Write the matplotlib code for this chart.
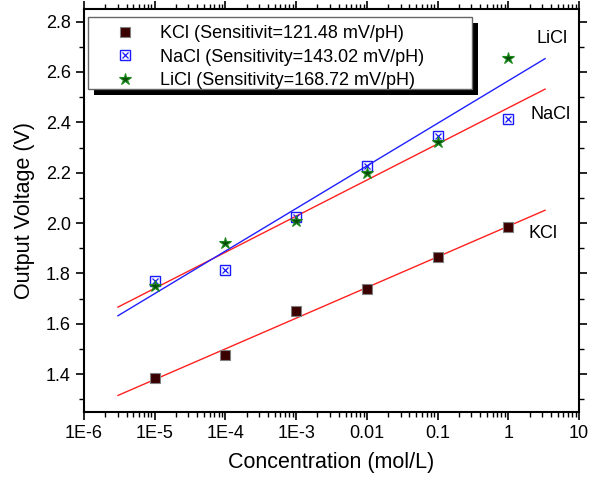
import numpy as np
import matplotlib
matplotlib.use("Agg")
import matplotlib.pyplot as plt
from matplotlib.legend_handler import HandlerTuple
from matplotlib.patches import Rectangle
from matplotlib.ticker import FixedLocator, LogLocator, NullFormatter, MultipleLocator

plt.rcParams['font.family'] = ['Liberation Sans', 'DejaVu Sans']

conc = [1e-5, 1e-4, 1e-3, 1e-2, 1e-1, 1.0]
kcl = [1.385, 1.475, 1.650, 1.740, 1.865, 1.985]
nacl = [1.770, 1.815, 2.025, 2.225, 2.345, 2.415]
licl = [1.750, 1.920, 2.010, 2.200, 2.320, 2.655]

xtick_vals = [1e-6, 1e-5, 1e-4, 1e-3, 1e-2, 1e-1, 1, 10]
xtick_labels = ["1E-6", "1E-5", "1E-4", "1E-3", "0.01", "0.1", "1", "10"]
legend_labels = ["KCl (Sensitivit=121.48 mV/pH)",
                 "NaCl (Sensitivity=143.02 mV/pH)",
                 "LiCl (Sensitivity=168.72 mV/pH)"]

W, H = 596, 479
fig = plt.figure(figsize=(W / 100, H / 100), dpi=100)
ax = fig.add_axes([84 / W, 1 - 412 / H, 495 / W, 403 / H])

# fit lines
fit_x = np.logspace(-5.52, 0.52, 50)
def fit(y):
    p = np.polyfit(np.log10(conc), y, 1)
    return np.polyval(p, np.log10(fit_x))

ax.plot(fit_x, fit(kcl), color='#ff2020', lw=1.0, zorder=2)
ax.plot(fit_x, fit(nacl), color='#ff2020', lw=1.0, zorder=2)
ax.plot(fit_x, fit(licl), color='#2020ff', lw=1.0, zorder=2)

hk, = ax.plot(conc, kcl, ls='none', marker='s', ms=6.5, mfc='#3a0000', mec='#808080', mew=0.8, zorder=3)
hn1, = ax.plot(conc, nacl, ls='none', marker='s', ms=6.5, mfc='none', mec='#1a1aff', mew=1.0, zorder=3)
hn2, = ax.plot(conc, nacl, ls='none', marker='x', ms=4.5, mec='#1a1aff', mew=0.9, zorder=3)
hl, = ax.plot(conc, licl, ls='none', marker='*', ms=9, mfc='#0b4d0b', mec='#1a8a1a', mew=0.8, zorder=4)

ax.set_xscale('log')
ax.set_xlim(1e-6, 10)
ax.set_ylim(1.25, 2.85)
ax.xaxis.set_major_locator(FixedLocator(xtick_vals))
ax.set_xticklabels(xtick_labels)
ax.xaxis.set_minor_locator(LogLocator(base=10, subs=np.arange(2, 10)))
ax.xaxis.set_minor_formatter(NullFormatter())
ax.yaxis.set_major_locator(MultipleLocator(0.2))
ax.yaxis.set_minor_locator(MultipleLocator(0.1))
ax.yaxis.set_major_formatter(plt.FuncFormatter(lambda v, p: f"{v:.1f}"))

for s in ax.spines.values():
    s.set_linewidth(1.5)
ax.tick_params(axis='both', which='major', direction='out', length=6, width=1.2, labelsize=13, top=True, right=True)
ax.tick_params(axis='both', which='minor', direction='out', length=3.5, width=1.0, top=True, right=True)

ax.set_xlabel("Concentration (mol/L)", fontsize=15.5, labelpad=7)
ax.set_ylabel("Output Voltage (V)", fontsize=15.5, labelpad=8)

ax.text(4.2, 2.733, "LiCl", fontsize=13, ha='center', va='center')
ax.text(3.9, 2.431, "NaCl", fontsize=13, ha='center', va='center')
ax.text(3.1, 1.959, "KCl", fontsize=13, ha='center', va='center')

# legend frame with shadow (drawn in figure pixels)
bx0, bx1, by0, by1 = 88, 472, 17, 89
sh = 6
ax.add_patch(Rectangle((bx0 / W + sh / W, 1 - by1 / H - sh / H), (bx1 - bx0) / W, (by1 - by0) / H,
                       transform=fig.transFigure, facecolor='black', edgecolor='none',
                       zorder=5, clip_on=False))
ax.add_patch(Rectangle((bx0 / W, 1 - by1 / H), (bx1 - bx0) / W, (by1 - by0) / H,
                       transform=fig.transFigure, facecolor='white', edgecolor='#666666', lw=1.0,
                       zorder=6, clip_on=False))

leg = ax.legend([hk, (hn1, hn2), hl], legend_labels,
                handler_map={tuple: HandlerTuple(ndivide=1, pad=0)},
                loc='upper left', bbox_to_anchor=(114 / W, 1 - 25 / H), bbox_transform=fig.transFigure,
                fontsize=13, frameon=False, borderpad=0, borderaxespad=0,
                labelspacing=0.36, handletextpad=1.35, handlelength=1.2)
leg.set_zorder(7)

fig.savefig("out.png", dpi=100)
